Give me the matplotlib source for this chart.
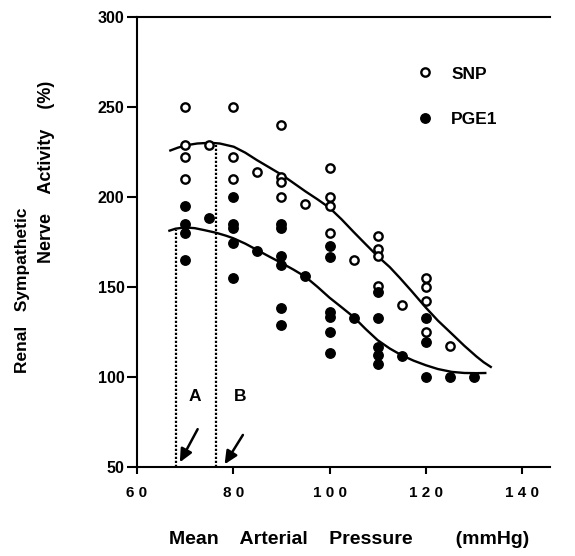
import matplotlib
matplotlib.use("Agg")
import matplotlib.pyplot as plt

plt.rcParams['font.family'] = ['Liberation Sans', 'DejaVu Sans']
plt.rcParams['font.weight'] = 'bold'

# ---- data ----
snp_x = [70, 70, 70, 70, 75, 80, 80, 80, 85, 90, 90, 90, 90, 95,
         100, 100, 100, 100, 105, 110, 110, 110, 110, 115,
         120, 120, 120, 120, 125]
snp_y = [250, 228.5, 222, 210, 228.5, 250, 222, 210, 214, 240, 211, 208, 200, 196,
         216, 200, 195, 180, 165, 178, 171, 167, 150.5, 140,
         155, 150, 142, 125, 117]

pge_x = [70, 70, 70, 70, 75, 80, 80, 80, 80, 80, 85,
         90, 90, 90, 90, 90, 90, 95,
         100, 100, 100, 100, 100, 100, 105,
         110, 110, 110, 110, 110, 115, 120, 120, 120, 125, 130]
pge_y = [195, 185, 180, 165, 188, 200, 185, 182.5, 174.5, 155, 170,
         185, 182.5, 167, 162, 138, 129, 156,
         172.5, 166.7, 136, 133.5, 125, 113.5, 132.5,
         147, 132.5, 116.7, 112, 107, 111.5, 132.5, 119.6, 100, 100, 100]

# fitted curves
snp_curve_x = [66.7, 68.5, 70.4, 72.5, 75.2, 77.2, 80.1, 82.5, 84.9, 87.5, 90.2, 92.5,
               95, 97.5, 100, 102.5, 105, 107.5, 110, 112.5, 114.6, 117, 120, 122.5,
               125.7, 128, 130.5, 132, 133.7]
snp_curve_y = [225.5, 227.3, 228.7, 229.6, 230, 229.6, 227.8, 224.5, 220.4, 216.3, 212, 207.7,
               203, 198.6, 193.9, 187.5, 180.5, 173.7, 167, 161, 155, 147.8, 138.5, 131.3,
               123.2, 117.3, 111.4, 108.2, 105.2]
pge_curve_x = [66.5, 68, 70, 72, 74, 76.5, 78.5, 80, 82.5, 85, 87.5, 90.2, 92.5, 95,
               97.5, 100, 102.5, 105, 107.5, 110, 112.5, 115, 117.5, 120, 122.5, 125.4,
               128, 130.5, 132.6]
pge_curve_y = [181, 182.3, 183, 182.6, 181.5, 180, 178.4, 177, 174, 170.4, 166.8, 163, 159.6,
               155.6, 150, 144, 138.7, 133.3, 126.6, 120.4, 115.8, 112, 109, 106.5, 104.4,
               102.8, 102.2, 102.1, 102.2]

# threshold markers A and B
thresh_x = [68, 76.5]
thresh_top = [181.5, 228.5]
thresh_labels = ['A', 'B']
thresh_label_x = [72, 81.4]
label_y = 89
arrow_tail = [(72.6, 71.0), (82.0, 67.8)]
arrow_tip = [(68.9, 52.6), (78.2, 51.5)]

xticks = [60, 80, 100, 120, 140]
xticklabels = ['6 0', '8 0', '1 0 0', '1 2 0', '1 4 0']
yticks = [50, 100, 150, 200, 250, 300]

# ---- figure ----
fig = plt.figure(figsize=(5.75, 5.56), dpi=100)
ax = fig.add_axes([137/575, 1-467/556, 413/575, 450.3/556])

ax.plot(snp_curve_x, snp_curve_y, color='black', lw=1.7, solid_capstyle='butt',
        solid_joinstyle='round')
ax.plot(pge_curve_x, pge_curve_y, color='black', lw=1.7, solid_capstyle='butt',
        solid_joinstyle='round')

h_snp, = ax.plot(snp_x, snp_y, 'o', ls='none', mfc='white', mec='black', mew=1.7, ms=6)
h_pge, = ax.plot(pge_x, pge_y, 'o', ls='none', mfc='black', mec='black', ms=6.8)

ax.vlines(thresh_x, 50, thresh_top, colors='black', linestyles=(0, (1, 0.8)), lw=1.6)
for lx, lab in zip(thresh_label_x, thresh_labels):
    ax.text(lx, label_y, lab, ha='center', va='center', fontsize=12.5, fontweight='bold')
for tail, tip in zip(arrow_tail, arrow_tip):
    ax.annotate('', xy=tip, xytext=tail,
                arrowprops=dict(arrowstyle='-|>,head_length=0.6,head_width=0.28', lw=1.8,
                                color='black', mutation_scale=13, shrinkA=0, shrinkB=0))

ax.set_xlim(60, 145.8)
ax.set_ylim(50, 300)
ax.set_xticks(xticks)
ax.set_xticklabels(xticklabels)
ax.set_yticks(yticks)
ax.tick_params(axis='x', direction='out', length=5, width=1.5, pad=9, labelsize=11)
ax.tick_params(axis='y', direction='out', length=7, width=1.5, pad=2, labelsize=11.5)
for lab in ax.get_xticklabels() + ax.get_yticklabels():
    lab.set_fontweight('bold')
ax.spines['right'].set_visible(False)
for s in ['left', 'bottom', 'top']:
    ax.spines[s].set_linewidth(1.5)

ax.legend([h_snp, h_pge], ['SNP', 'PGE1'], loc='upper left', bbox_to_anchor=(0.66, 0.905),
          frameon=False, handlelength=1.0, handletextpad=1.0, labelspacing=1.75,
          prop={'weight': 'bold', 'size': 12.5}, borderaxespad=0)

fig.text(23/575, 1-290/556, 'Renal   Sympathetic', rotation=90, ha='center', va='center',
         fontsize=12.5, fontweight='bold')
fig.text(47/575, 1-172/556, 'Nerve    Activity    (%)', rotation=90, ha='center', va='center',
         fontsize=13, fontweight='bold')
fig.text(349/575, 1-540/556, 'Mean    Arterial    Pressure        (mmHg)', ha='center',
         va='center', fontsize=14, fontweight='bold')

fig.savefig('out.png', dpi=100)
